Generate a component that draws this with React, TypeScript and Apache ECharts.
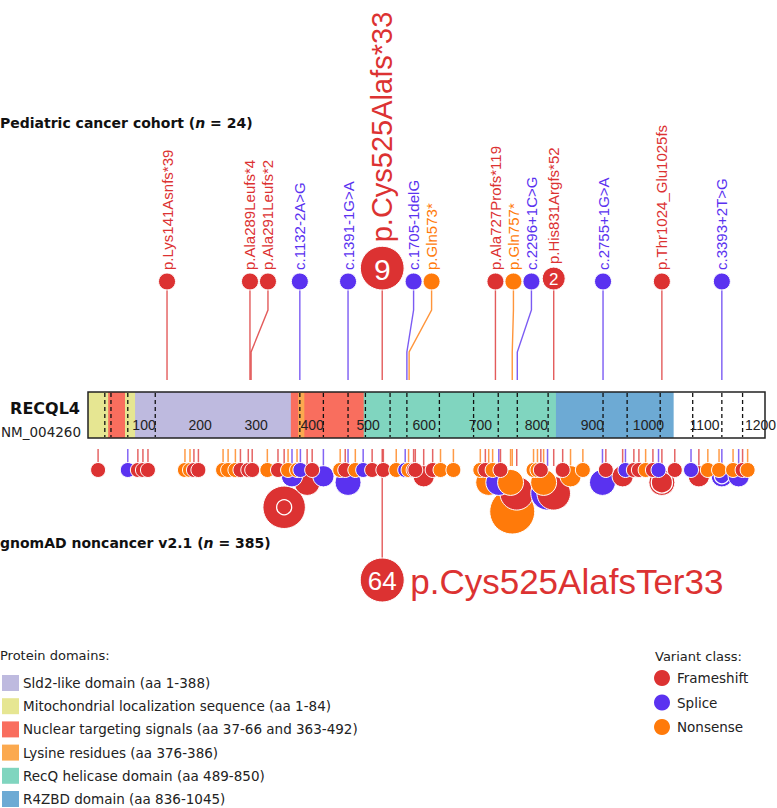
import React, { useEffect, useRef } from "react";
import * as echarts from "echarts";

// ---------------- data ----------------
const PROTEIN_LENGTH = 1208;
const geneName = "RECQL4";
const transcript = "NM_004260";
const tickLabels = [100, 200, 300, 400, 500, 600, 700, 800, 900, 1000, 1100, 1200];
const exonBoundaries = [30, 41, 71, 120, 378, 420, 464, 495, 539, 569, 627, 688, 732, 766, 821, 919, 962, 1021, 1079, 1131, 1168];

const domainNames = [
  "Sld2-like domain (aa 1-388)",
  "Mitochondrial localization sequence (aa 1-84)",
  "Nuclear targeting signals (aa 37-66 and 363-492)",
  "Lysine residues (aa 376-386)",
  "RecQ helicase domain (aa 489-850)",
  "R4ZBD domain (aa 836-1045)",
];
const domainColors = ["#BEBADF", "#E6E692", "#F96E5E", "#FBA94F", "#80D5BF", "#6DAAD4"];
// [start, end, domain index] in drawing order
const domainSegments: [number, number, number][] = [
  [1, 388, 0],
  [1, 84, 1],
  [489, 850, 4],
  [836, 1045, 5],
  [37, 66, 2],
  [363, 492, 2],
  [376, 386, 3],
];

const classNames = ["Frameshift", "Splice", "Nonsense"];
const classColors = ["#DC3232", "#5A32F0", "#FF7A0A"];

// Pediatric cancer cohort
const cohortTitle = ["Pediatric cancer cohort (", "n", " = 24)"];
const cohortLabels = [
  "p.Lys141Asnfs*39", "p.Ala289Leufs*4", "p.Ala291Leufs*2", "c.1132-2A>G", "c.1391-1G>A",
  "p.Cys525Alafs*33", "c.1705-1delG", "p.Gln573*", "p.Ala727Profs*119", "p.Gln757*",
  "c.2296+1C>G", "p.His831Argfs*52", "c.2755+1G>A", "p.Thr1024_Glu1025fs", "c.3393+2T>G",
];
const cohortPositions = [141, 289, 291, 378, 464, 525, 569, 573, 727, 757, 766, 831, 919, 1024, 1131];
const cohortClasses = [0, 0, 0, 1, 1, 0, 1, 2, 0, 2, 1, 0, 1, 0, 1];
const cohortCounts = [1, 1, 1, 1, 1, 9, 1, 1, 1, 1, 1, 2, 1, 1, 1];

// gnomAD noncancer: [aa position, class, carriers, homozygous]
const gnomadTitle = ["gnomAD noncancer v2.1 (", "n", " = 385)"];
const gnomadVariants: [number, number, number, number][] = [
  [18, 0, 1, 0], [71, 1, 1, 0], [89, 0, 1, 0], [98, 0, 1, 0], [107, 0, 1, 0],
  [173, 2, 1, 0], [182, 2, 1, 0], [189, 0, 1, 0], [197, 0, 1, 0], [241, 2, 1, 0],
  [250, 2, 1, 0], [263, 2, 1, 0], [272, 0, 1, 0], [286, 0, 1, 0], [293, 0, 1, 0],
  [320, 2, 1, 0], [339, 0, 1, 0], [350, 0, 8, 1], [357, 2, 1, 0], [364, 1, 2, 0],
  [373, 2, 1, 0], [379, 1, 1, 0], [391, 0, 3, 0], [400, 0, 1, 0], [420, 1, 2, 0],
  [450, 2, 1, 0], [459, 0, 1, 0], [464, 1, 3, 0], [477, 2, 1, 0], [491, 1, 1, 0],
  [507, 0, 1, 0], [525, 0, 64, 0], [527, 0, 1, 0], [550, 2, 1, 0], [566, 1, 1, 0],
  [572, 2, 1, 0], [581, 0, 1, 0], [584, 0, 1, 0], [599, 0, 2, 0], [615, 0, 1, 0],
  [629, 2, 1, 0], [652, 2, 1, 0], [700, 2, 1, 0], [709, 0, 1, 0], [715, 2, 3, 0],
  [722, 2, 1, 0], [733, 1, 3, 0], [736, 0, 1, 0], [754, 2, 3, 0], [757, 2, 9, 0],
  [765, 0, 5, 0], [795, 2, 1, 0], [802, 2, 1, 0], [808, 0, 1, 0], [813, 2, 3, 0],
  [820, 1, 5, 0], [831, 0, 5, 0], [847, 0, 1, 0], [861, 2, 2, 0], [883, 2, 1, 0],
  [918, 1, 3, 0], [924, 0, 1, 0], [954, 0, 2, 0], [959, 1, 1, 0], [974, 0, 1, 0],
  [983, 0, 1, 0], [995, 2, 1, 0], [1008, 0, 1, 0], [1018, 1, 1, 0], [1024, 0, 3, 2],
  [1047, 0, 1, 0], [1076, 1, 1, 0], [1090, 0, 2, 0], [1106, 2, 1, 0], [1126, 2, 1, 0],
  [1131, 1, 2, 1], [1151, 2, 1, 0], [1161, 1, 2, 0], [1168, 0, 1, 0], [1177, 2, 1, 0],
];
const gnomadCalloutLabels: [number, string][] = [[525, "p.Cys525AlafsTer33"]];

// ---------------- layout / style ----------------
const W = 777;
const H = 808;
const GRID_LEFT = 88;
const GRID_WIDTH = 677;
const BAR_TOP = 392;
const BAR_BOTTOM = 438;
const TICK_Y = 425;
const TOP_BASE = 290;
const TOP_BEND_START = 310;
const TOP_BEND_END = 352;
const TOP_STEM_END = 380;
const LOW_STEM_START = 449;
const LOW_STEM_END = 466;
const LOW_ROW_Y = 470;
const CALLOUT_Y = 580;
const CALLOUT_R = 22;
const CALLOUT_MIN = 20;
const SANS = "Liberation Sans, Arial, sans-serif";
const VERD = "DejaVu Sans, Verdana, sans-serif";

const topRadius = (c: number) => 8.5 * Math.pow(c, 0.43);
const lowRadius = (c: number) => 7.5 * Math.sqrt(c);
const lowCenter = (r: number) => LOW_ROW_Y + 1.61 * Math.pow(Math.max(0, r - 7.5), 1.2);

export default function App() {
  const ref = useRef<HTMLDivElement>(null);

  useEffect(() => {
    if (!ref.current) return;
    const chart = echarts.init(ref.current, undefined, { renderer: "svg" });

    const yPix = (api: any, v: number) => api.coord([0, v])[1];

    const domainSeries = {
      type: "custom",
      silent: true,
      data: domainSegments.map((s, i) => [s[0], i]),
      renderItem: (params: any, api: any) => {
        const s = domainSegments[params.dataIndex];
        const x0 = api.coord([s[0] - 1, BAR_TOP])[0];
        const x1 = api.coord([s[1], BAR_TOP])[0];
        const y0 = yPix(api, BAR_TOP);
        const y1 = yPix(api, BAR_BOTTOM);
        return {
          type: "rect",
          shape: { x: x0, y: y0, width: x1 - x0, height: y1 - y0 },
          style: { fill: domainColors[s[2]] },
        };
      },
    };

    const exonSeries = {
      type: "custom",
      silent: true,
      data: exonBoundaries.map((b, i) => [b, i]),
      renderItem: (params: any, api: any) => {
        const x = api.coord([exonBoundaries[params.dataIndex], 0])[0];
        return {
          type: "line",
          shape: { x1: x, y1: yPix(api, BAR_TOP) + 1, x2: x, y2: yPix(api, BAR_BOTTOM) - 1 },
          style: { stroke: "#111", lineWidth: 1.3, lineDash: [4, 3] },
        };
      },
    };

    const outlineSeries = {
      type: "custom",
      silent: true,
      data: [[0, 0]],
      renderItem: (params: any, api: any) => {
        const x0 = api.coord([0, 0])[0];
        const x1 = api.coord([PROTEIN_LENGTH, 0])[0];
        const y0 = yPix(api, BAR_TOP);
        const y1 = yPix(api, BAR_BOTTOM);
        return {
          type: "rect",
          shape: { x: x0, y: y0, width: x1 - x0, height: y1 - y0 },
          style: { fill: "none", stroke: "#222", lineWidth: 1.5 },
        };
      },
    };

    const tickSeries = {
      type: "custom",
      silent: true,
      data: tickLabels.map((t, i) => [t, i]),
      renderItem: (params: any, api: any) => {
        const t = tickLabels[params.dataIndex];
        const p = api.coord([t, TICK_Y]);
        return {
          type: "text",
          x: p[0],
          y: p[1],
          style: {
            text: String(t),
            fill: "#222",
            fontSize: 14,
            fontFamily: SANS,
            align: "center",
            verticalAlign: "middle",
          },
        };
      },
    };

    const cohortSeries = {
      type: "custom",
      silent: true,
      data: cohortPositions.map((p, i) => [p, i]),
      renderItem: (params: any, api: any) => {
        const i = params.dataIndex;
        const rs = cohortCounts.map(topRadius);
        const trueX = cohortPositions.map((p) => api.coord([p, 0])[0]);
        const dispX: number[] = [];
        trueX.forEach((x, j) => {
          dispX.push(j === 0 ? x : Math.max(x, dispX[j - 1] + rs[j - 1] + rs[j] + 1));
        });
        const r = rs[i];
        const cx = dispX[i];
        const tx = trueX[i];
        const base = yPix(api, TOP_BASE);
        const cy = base - r;
        const color = classColors[cohortClasses[i]];
        const big = cohortCounts[i] >= 5;
        const children: any[] = [
          {
            type: "polyline",
            shape: {
              points: [
                [cx, cy + r],
                [cx, yPix(api, TOP_BEND_START)],
                [tx, yPix(api, TOP_BEND_END)],
                [tx, yPix(api, TOP_STEM_END)],
              ],
            },
            style: { stroke: color, lineWidth: 1.4, fill: "none", opacity: 0.8 },
          },
          {
            type: "circle",
            shape: { cx, cy, r },
            style: { fill: color, stroke: "#fff", lineWidth: 1 },
          },
          {
            type: "text",
            x: cx,
            y: cy - r - (big ? 4 : 3),
            rotation: Math.PI / 2,
            style: {
              text: cohortLabels[i],
              fill: color,
              fontSize: big ? 29 : 15,
              fontFamily: SANS,
              align: "left",
              verticalAlign: "middle",
            },
          },
        ];
        if (cohortCounts[i] > 1) {
          children.push({
            type: "text",
            x: cx,
            y: cy + 1,
            style: {
              text: String(cohortCounts[i]),
              fill: "#fff",
              fontSize: big ? 30 : 17,
              fontFamily: SANS,
              align: "center",
              verticalAlign: "middle",
            },
          });
        }
        return { type: "group", children };
      },
    };

    const lowStemSeries = {
      type: "custom",
      silent: true,
      data: gnomadVariants.map((v, i) => [v[0], i]),
      renderItem: (params: any, api: any) => {
        const v = gnomadVariants[params.dataIndex];
        const x = api.coord([v[0], 0])[0];
        const callout = v[2] >= CALLOUT_MIN;
        const yEnd = callout ? yPix(api, CALLOUT_Y) - CALLOUT_R : yPix(api, LOW_STEM_END);
        return {
          type: "line",
          shape: { x1: x, y1: yPix(api, LOW_STEM_START), x2: x, y2: yEnd },
          style: { stroke: classColors[v[1]], lineWidth: 1.5, opacity: 0.75 },
        };
      },
    };

    const order = gnomadVariants
      .map((v, i) => i)
      .sort((a, b) => gnomadVariants[b][2] - gnomadVariants[a][2] || gnomadVariants[a][0] - gnomadVariants[b][0]);

    const lowCircleSeries = {
      type: "custom",
      silent: true,
      data: order.map((j) => [gnomadVariants[j][0], j]),
      renderItem: (params: any, api: any) => {
        const j = order[params.dataIndex];
        const v = gnomadVariants[j];
        const x = api.coord([v[0], 0])[0];
        const color = classColors[v[1]];
        if (v[2] >= CALLOUT_MIN) {
          const cy = yPix(api, CALLOUT_Y);
          const lab = gnomadCalloutLabels.find((c) => c[0] === v[0]);
          return {
            type: "group",
            children: [
              { type: "circle", shape: { cx: x, cy, r: CALLOUT_R }, style: { fill: color, stroke: "#fff", lineWidth: 1 } },
              {
                type: "text",
                x,
                y: cy + 1,
                style: { text: String(v[2]), fill: "#fff", fontSize: 26, fontFamily: SANS, align: "center", verticalAlign: "middle" },
              },
              {
                type: "text",
                x: x + CALLOUT_R + 6,
                y: cy + 1,
                style: { text: lab ? lab[1] : "", fill: color, fontSize: 35, fontFamily: SANS, align: "left", verticalAlign: "middle" },
              },
            ],
          };
        }
        const r = lowRadius(v[2]);
        const cy = yPix(api, lowCenter(r));
        const children: any[] = [
          { type: "circle", shape: { cx: x, cy, r }, style: { fill: color, stroke: "#fff", lineWidth: 1 } },
        ];
        if (v[3] > 0) {
          children.push({
            type: "circle",
            shape: { cx: x, cy, r: lowRadius(v[3]) },
            style: { fill: "none", stroke: "#fff", lineWidth: 1.3 },
          });
        }
        return { type: "group", children };
      },
    };

    const heading = (parts: string[], y: number) => ({
      type: "text",
      left: 0,
      top: y - 9,
      style: {
        text: `{b|${parts[0]}}{i|${parts[1]}}{b|${parts[2]}}`,
        rich: {
          b: { fontFamily: VERD, fontWeight: "bold", fontSize: 14, fill: "#111" },
          i: { fontFamily: VERD, fontWeight: "bold", fontStyle: "italic", fontSize: 14, fill: "#111" },
        },
      },
    });

    const graphics: any[] = [
      heading(cohortTitle, 125),
      heading(gnomadTitle, 545),
      {
        type: "text",
        x: 80,
        y: 408,
        style: { text: geneName, fontFamily: VERD, fontWeight: "bold", fontSize: 16, fill: "#111", align: "right", verticalAlign: "middle" },
      },
      {
        type: "text",
        x: 81,
        y: 432,
        style: { text: transcript, fontFamily: VERD, fontSize: 13.5, fill: "#222", align: "right", verticalAlign: "middle" },
      },
      {
        type: "text",
        x: 0,
        y: 655,
        style: { text: "Protein domains:", fontFamily: VERD, fontSize: 13, fill: "#222", align: "left", verticalAlign: "middle" },
      },
      {
        type: "text",
        x: 655,
        y: 656,
        style: { text: "Variant class:", fontFamily: VERD, fontSize: 13, fill: "#222", align: "left", verticalAlign: "middle" },
      },
    ];
    domainNames.forEach((name, k) => {
      const cy = 683 + k * 23.2;
      graphics.push({ type: "rect", shape: { x: 2, y: cy - 8, width: 17, height: 16 }, style: { fill: domainColors[k] } });
      graphics.push({
        type: "text",
        x: 23,
        y: cy,
        style: { text: name, fontFamily: VERD, fontSize: 13.5, fill: "#222", align: "left", verticalAlign: "middle" },
      });
    });
    classNames.forEach((name, k) => {
      const cy = 678 + k * 24.5;
      graphics.push({ type: "circle", shape: { cx: 662, cy, r: 8 }, style: { fill: classColors[k] } });
      graphics.push({
        type: "text",
        x: 677,
        y: cy,
        style: { text: name, fontFamily: VERD, fontSize: 13.5, fill: "#222", align: "left", verticalAlign: "middle" },
      });
    });

    chart.setOption({
      animation: false,
      grid: { left: GRID_LEFT, width: GRID_WIDTH, top: 0, height: H },
      xAxis: { type: "value", min: 0, max: PROTEIN_LENGTH, show: false },
      yAxis: { type: "value", min: 0, max: H, inverse: true, show: false },
      graphic: graphics,
      series: [domainSeries, exonSeries, outlineSeries, tickSeries, cohortSeries, lowStemSeries, lowCircleSeries],
    });

    return () => chart.dispose();
  }, []);

  return (
    <div
      ref={ref}
      style={{ position: "fixed", left: 0, top: 0, width: W, height: H, background: "#fff" }}
    />
  );
}
